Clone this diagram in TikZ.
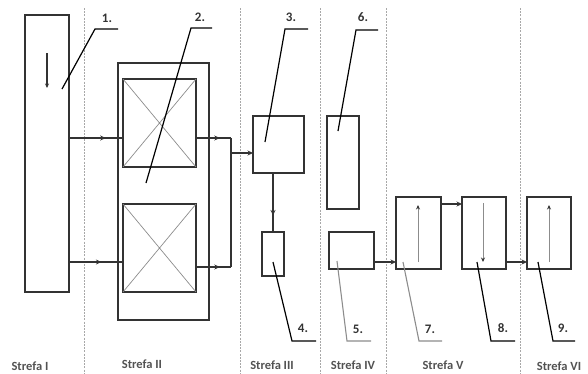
\documentclass[tikz,border=0pt]{standalone}
\usepackage{fontspec}
\setmainfont{Carlito}
\usetikzlibrary{arrows.meta,decorations.markings}
\definecolor{ink}{HTML}{333333}
\definecolor{zone}{HTML}{A8A8A8}
\definecolor{thin}{HTML}{8C8C8C}
\begin{document}
\begin{tikzpicture}[x=1pt,y=-1pt,
  box/.style={draw=ink,line width=1.7pt,inner sep=0pt,outer sep=0pt},
  zoneline/.style={draw=zone,line width=0.9pt,dash pattern=on 2pt off 1.2pt},
  flow/.style={draw=ink,line width=1.1pt,-{Stealth[length=5.5pt,width=5pt]}},
  midflow/.style={draw=ink,line width=1.1pt,decoration={markings,
     mark=at position #1 with {\arrow{Stealth[length=5.5pt,width=5pt]}}},postaction={decorate}},
  inner/.style={draw=thin,line width=0.9pt,-{Stealth[length=4.5pt,width=4pt,color=ink]}},
  cross/.style={draw=thin,line width=0.7pt},
  leader/.style={draw=black,line width=1.2pt},
  leadergray/.style={draw=thin,line width=1.1pt},
  num/.style={font=\bfseries\fontsize{13}{14}\selectfont,text=ink,inner sep=0pt},
  zonetxt/.style={font=\bfseries\fontsize{12.5}{14}\selectfont,text=ink!85,inner sep=0pt}]
\useasboundingbox (0,0) rectangle (588,373);

% zone borders
\foreach \zx in {84,240,320,386,520}
  \draw[zoneline] (\zx,8) -- (\zx,373);

% zone names
\node[zonetxt] (z1) at (30,366) {Strefa I};
\node[zonetxt] (z2) at (142,364) {Strefa II};
\node[zonetxt] (z3) at (272,365) {Strefa III};
\node[zonetxt] (z4) at (353,365) {Strefa IV};
\node[zonetxt] (z5) at (443,365) {Strefa V};
\node[zonetxt] (z6) at (559,366) {Strefa VI};

% apparatus
\node[box,minimum width=44,minimum height=277] (b1) at (47,153.5) {};
\node[box,minimum width=91,minimum height=257] (b2) at (163.5,191.5) {};
\node[box,minimum width=73,minimum height=88] (b2a) at (159.5,123) {};
\node[box,minimum width=73,minimum height=88] (b2b) at (159.5,248) {};
\node[box,minimum width=51,minimum height=57] (b3) at (278.5,144.5) {};
\node[box,minimum width=22,minimum height=44] (b4) at (273,254) {};
\node[box,minimum width=32,minimum height=93] (b6) at (343,162.5) {};
\node[box,minimum width=45,minimum height=37] (b5) at (351.5,250.5) {};
\node[box,minimum width=45,minimum height=72] (b7) at (418.5,233) {};
\node[box,minimum width=44,minimum height=72] (b8) at (484,233) {};
\node[box,minimum width=44,minimum height=72] (b9) at (549,233) {};

% crosses in the twin units
\draw[cross] (b2a.north west) -- (b2a.south east) (b2a.north east) -- (b2a.south west);
\draw[cross] (b2b.north west) -- (b2b.south east) (b2b.north east) -- (b2b.south west);

% flow direction inside the columns
\draw[inner,draw=ink,line width=1.1pt] (47,53) -- (47,88);
\draw[inner] (418,262) -- (418,205);
\draw[inner] (483,203) -- (483,262);
\draw[inner] (549,262) -- (549,205);

% connector rows
\coordinate (r1) at (0,138);
\coordinate (r2) at (0,262);
\coordinate (r3) at (0,267);
\coordinate (r4) at (0,153);
\coordinate (r5) at (0,204);
\coordinate (jx) at (231,0);

\draw[midflow=0.68] (b1.east |- r1) -- (b2a.west |- r1);
\draw[midflow=0.6] (b1.east |- r2) -- (b2b.west |- r2);
\draw[midflow=0.68] (b2a.east |- r1) -- (jx |- r1);
\draw[midflow=0.68] (b2b.east |- r3) -- (jx |- r3);
\draw[draw=ink,line width=1.1pt] (jx |- r1) -- (jx |- r3);
\draw[flow] (jx |- r4) -- (b3.west |- r4);
\draw[midflow=0.72] (b4.north |- b3.south) -- (b4.north);
\draw[flow] (b5.east |- r2) -- (b7.west |- r2);
\draw[flow] (b7.east |- r5) -- (b8.west |- r5);
\draw[flow] (b8.east |- r2) -- (b9.west |- r2);

% reference numbers with leader lines
\node[num] (n1) at (107,18) {1.};
\draw[leader] (62,89) -- (95,29) -- (118,29);
\node[num] (n2) at (200,17) {2.};
\draw[leader] (146,183) -- (191,28) -- (212,28);
\node[num] (n3) at (291,17) {3.};
\draw[leader] (265,142) -- (285,29) -- (308,29);
\node[num] (n6) at (363,17) {6.};
\draw[leader] (338,131) -- (356,30) -- (378,30);
\node[num] (n4) at (303,328) {4.};
\draw[leader] (273,262) -- (292,341) -- (316,341);
\node[num] (n5) at (358,329) {5.};
\draw[leadergray] (337,261) -- (347,341) -- (371,341);
\node[num] (n7) at (430,329) {7.};
\draw[leadergray] (403,262) -- (419,341) -- (442,341);
\node[num] (n8) at (503,328) {8.};
\draw[leader] (477,262) -- (491,341) -- (515,341);
\node[num] (n9) at (563,328) {9.};
\draw[leader] (538,262) -- (553,341) -- (575,341);
\end{tikzpicture}
\end{document}
